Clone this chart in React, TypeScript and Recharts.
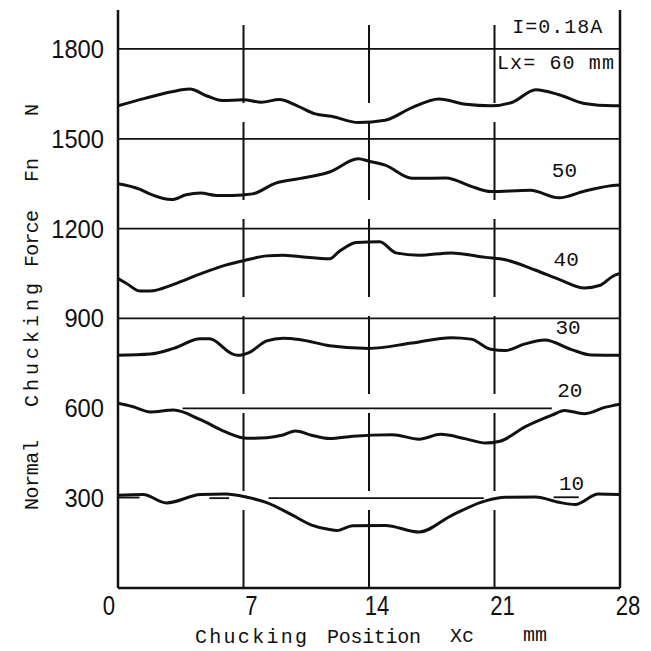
import React from 'react';
import { LineChart, Line, XAxis, YAxis, ReferenceLine, ReferenceDot } from 'recharts';

// ---- axes ----
const xTicks = [0, 7, 14, 21, 28];
const yTicks = [300, 600, 900, 1200, 1500, 1800];
const fullGridY = [900, 1200, 1500, 1800];
const gridX = [7, 14, 21];

// ---- series (Lx = 60 ... 10 mm), Fn in N vs Xc in mm ----
const lx60X = [0, 1.5, 3, 4, 5, 5.8, 7, 8, 9, 10, 11, 11.9, 13.4, 14.9, 16.4, 17.9, 19.4, 20.8, 22, 23.3, 24.6, 26, 27.6, 28];
const lx60Y = [1610, 1635, 1657, 1666, 1642, 1628, 1630, 1622, 1631, 1610, 1583, 1575, 1554, 1562, 1604, 1633, 1615, 1610, 1622, 1664, 1647, 1618, 1610, 1610];

const lx50X = [0, 1.2, 1.8, 3, 3.8, 4.6, 5.5, 6.4, 7.5, 8.8, 10.1, 11.8, 13.4, 14, 14.9, 16.4, 18.3, 19.7, 20.8, 23, 24.6, 26, 27.6, 28];
const lx50Y = [1350, 1332, 1315, 1297, 1313, 1319, 1311, 1311, 1316, 1352, 1367, 1389, 1433, 1425, 1412, 1368, 1369, 1341, 1324, 1328, 1303, 1325, 1344, 1346];

const lx40X = [0, 0.5, 1.2, 1.8, 3.1, 4.6, 6, 7, 8.3, 9.2, 10.1, 11.8, 12.3, 13.3, 14.6, 15.5, 16.8, 18.6, 20.5, 21.6, 23.3, 24.7, 26, 26.9, 27.6, 28];
const lx40Y = [1033, 1016, 992, 992, 1014, 1049, 1078, 1093, 1109, 1111, 1107, 1099, 1122, 1154, 1156, 1119, 1111, 1119, 1104, 1096, 1061, 1028, 1002, 1011, 1041, 1050];

const lx30X = [0, 1.8, 3.1, 4.6, 5.1, 6.4, 6.7, 7.3, 8.3, 9.2, 10.1, 11.8, 14, 16.4, 18.6, 19.7, 20.8, 21.6, 22.7, 23.8, 25.3, 26.4, 27.9, 28];
const lx30Y = [777, 781, 800, 832, 832, 781, 777, 786, 825, 834, 830, 809, 800, 818, 836, 831, 797, 793, 815, 828, 796, 778, 777, 777];

const lx20X = [0, 0.8, 1.8, 3.1, 4.6, 6, 7.2, 8.3, 9.2, 9.9, 10.8, 11.8, 13.1, 15.3, 16.8, 18, 19.4, 20.5, 21.3, 22.7, 24.2, 24.9, 26, 27.2, 28];
const lx20Y = [617, 606, 588, 594, 562, 521, 500, 502, 511, 524, 510, 499, 507, 512, 497, 513, 498, 484, 490, 538, 577, 593, 582, 604, 614];

const lx10X = [0, 1.4, 2.7, 4.6, 6, 7.2, 8.3, 9.7, 10.8, 11.8, 12.2, 13.1, 14.9, 16.8, 18.6, 20.5, 21.6, 23.3, 24.6, 25.5, 26.8, 28];
const lx10Y = [310, 312, 284, 312, 314, 303, 285, 244, 210, 195, 192, 208, 209, 187, 242, 291, 303, 304, 286, 279, 314, 312];

// ---- curve annotations ----
const annText = ['50', '40', '30', '20', '10'];
const annX = [24.9, 25.0, 25.1, 25.2, 25.3];
const annY = [1397, 1097, 870, 660, 350];

// partial reference segments [x1, x2, y]
const partialSegs = [
  [3.6, 24.2, 600],
  [8.4, 20.4, 300],
  [0, 1.2, 302],
  [5.1, 6.2, 300],
  [24.3, 25.7, 303],
];

const toData = (xs: number[], ys: number[]) => xs.map((x, i) => ({ x, v: ys[i] }));
const seriesList = [
  toData(lx60X, lx60Y),
  toData(lx50X, lx50Y),
  toData(lx40X, lx40Y),
  toData(lx30X, lx30Y),
  toData(lx20X, lx20Y),
  toData(lx10X, lx10Y),
];

const INK = '#111';
const MONO = '"Liberation Mono", "DejaVu Sans Mono", monospace';
const SANS = '"Liberation Sans", Arial, sans-serif';

const YTick = (props: any) => {
  const { x, y, payload } = props;
  return (
    <g transform={`translate(${x - 6},${y + 9})`}>
      <text transform="scale(0.95,1)" textAnchor="end" fontFamily={SANS} fontSize={25} fill={INK}>
        {payload.value}
      </text>
    </g>
  );
};

const XTick = (props: any) => {
  const { x, y, payload, index } = props;
  const dx = index === 0 ? -9 : 8;
  return (
    <g transform={`translate(${x + dx},${y + 19})`}>
      <text transform="scale(0.82,1)" textAnchor="middle" fontFamily={SANS} fontSize={27} fill={INK}>
        {payload.value}
      </text>
    </g>
  );
};

const XTitle = () => (
  <g fontFamily={MONO} fontSize={20} fill={INK}>
    <text x={195} y={643} textLength={112} lengthAdjust="spacing">Chucking</text>
    <text x={327} y={643} textLength={94} lengthAdjust="spacing">Position</text>
    <text x={450} y={642}>Xc</text>
    <text x={523} y={641}>mm</text>
  </g>
);

const yWords: [string, number, number][] = [
  ['Normal', 510, 70],
  ['Chucking', 407, 124],
  ['Force', 267, 57],
  ['Fn', 182, 0],
  ['N', 116, 0],
];

const YTitle = () => (
  <g fontFamily={MONO} fontSize={20} fill={INK}>
    {yWords.map(([w, y0, len]) => (
      <text
        key={w}
        x={38}
        y={y0}
        transform={`rotate(-90 38 ${y0})`}
        {...(len > 0 ? { textLength: len, lengthAdjust: 'spacing' } : {})}
      >
        {w}
      </text>
    ))}
  </g>
);

const annLabel = (text: string) => (props: any) => {
  const vb = props.viewBox || {};
  const cx = (vb.x ?? 0) + (vb.width ?? 0) / 2;
  const cy = (vb.y ?? 0) + (vb.height ?? 0) / 2;
  return (
    <text x={cx} y={cy + 7} textAnchor="middle" fontFamily={MONO} fontSize={21} fill={INK}>
      {text}
    </text>
  );
};

const boxLabel = (text: string, len: number) => (props: any) => {
  const vb = props.viewBox || {};
  const cx = (vb.x ?? 0) + (vb.width ?? 0) / 2;
  const cy = (vb.y ?? 0) + (vb.height ?? 0) / 2;
  return (
    <text x={cx} y={cy + 7} textAnchor="middle" fontFamily={MONO} fontSize={20} fill={INK}
      textLength={len} lengthAdjust="spacing">
      {text}
    </text>
  );
};

export default function App() {
  return (
    <div style={{ position: 'absolute', left: 0, top: 0, width: 651, height: 651, background: '#fff' }}>
      <LineChart width={651} height={651} margin={{ top: 10, right: 31, left: 0, bottom: 0 }}>
        <XAxis
          type="number"
          dataKey="x"
          domain={[0, 28]}
          ticks={xTicks}
          allowDataOverflow
          height={63}
          tickLine={false}
          axisLine={{ stroke: INK, strokeWidth: 2.5 }}
          tick={<XTick />}
          label={{ content: <XTitle /> } as any}
        />
        <YAxis
          type="number"
          dataKey="v"
          domain={[0, 1930]}
          ticks={yTicks}
          allowDataOverflow
          width={118}
          tickLine={false}
          axisLine={{ stroke: INK, strokeWidth: 2.5 }}
          tick={<YTick />}
          label={{ content: <YTitle /> } as any}
        />
        {fullGridY.map((v) => (
          <ReferenceLine key={'gy' + v} y={v} stroke={INK} strokeWidth={1.8} />
        ))}
        {partialSegs.map(([x1, x2, v], i) => (
          <ReferenceLine key={'ps' + i} segment={[{ x: x1, y: v }, { x: x2, y: v }]} stroke={INK} strokeWidth={1.8} />
        ))}
        {gridX.map((v) => (
          <ReferenceLine key={'gx' + v} x={v} stroke={INK} strokeWidth={2} strokeDasharray="78 19" />
        ))}
        <ReferenceLine x={28} stroke={INK} strokeWidth={2.5} />
        {seriesList.map((d, i) => (
          <Line
            key={'s' + i}
            data={d}
            dataKey="v"
            type="monotone"
            stroke={INK}
            strokeWidth={3}
            dot={false}
            isAnimationActive={false}
          />
        ))}
        {annText.map((t, i) => (
          <ReferenceDot key={'a' + t} x={annX[i]} y={annY[i]} r={0} fill="none" stroke="none" label={{ content: annLabel(t) } as any} />
        ))}
        <ReferenceDot x={24.5} y={1877} r={0} fill="none" stroke="none" label={{ content: boxLabel('I=0.18A', 90) } as any} />
        <ReferenceDot x={24.4} y={1755} r={0} fill="none" stroke="none" label={{ content: boxLabel('Lx= 60 mm', 117) } as any} />
      </LineChart>
    </div>
  );
}
